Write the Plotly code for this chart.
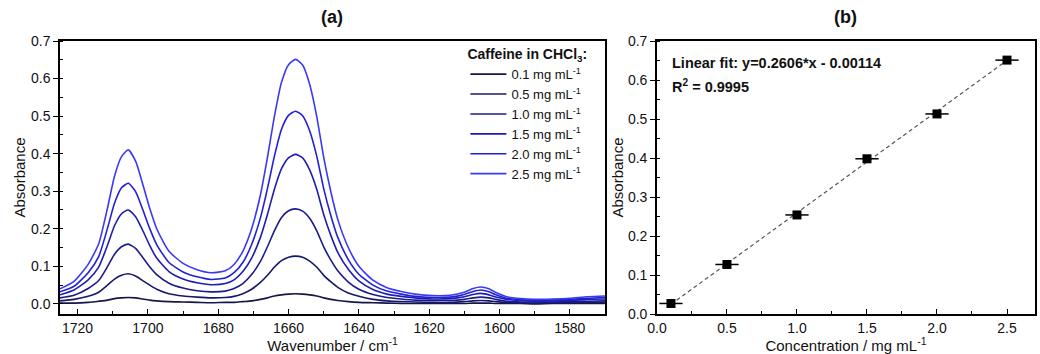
import plotly.graph_objects as go

# ---------------- data ----------------
wavenumber = [1725, 1721, 1717, 1714, 1711.5, 1709.5, 1707.5, 1705.6, 1703.5, 1701.5,
              1699.5, 1697.5, 1694, 1690, 1686, 1682, 1678, 1675.5, 1673, 1670.5,
              1668, 1666, 1664, 1662, 1660, 1658, 1656, 1654, 1652, 1650,
              1648, 1646, 1643, 1640, 1636, 1632, 1628, 1624, 1619, 1614,
              1610, 1607.5, 1605.3, 1603, 1601, 1598, 1594, 1590, 1585, 1580,
              1575, 1570]

abs_01 = [0.002, 0.002, 0.004, 0.007, 0.010, 0.014, 0.016, 0.017, 0.016, 0.013,
          0.010, 0.008, 0.006, 0.005, 0.004, 0.003, 0.004, 0.004, 0.006, 0.008,
          0.012, 0.016, 0.021, 0.024, 0.026, 0.027, 0.026, 0.024, 0.021, 0.016,
          0.012, 0.009, 0.006, 0.004, 0.003, 0.002, 0.001, 0.001, 0.001, 0.001,
          0.001, 0.002, 0.002, 0.002, 0.001, 0.001, 0.001, 0.000, 0.001, 0.001,
          0.001, 0.001]
abs_05 = [0.008, 0.012, 0.020, 0.031, 0.050, 0.066, 0.076, 0.080, 0.074, 0.062,
          0.050, 0.039, 0.027, 0.021, 0.018, 0.016, 0.017, 0.020, 0.027, 0.039,
          0.057, 0.076, 0.098, 0.115, 0.124, 0.127, 0.124, 0.114, 0.098, 0.076,
          0.059, 0.044, 0.029, 0.020, 0.012, 0.008, 0.006, 0.005, 0.004, 0.004,
          0.006, 0.008, 0.009, 0.008, 0.006, 0.004, 0.003, 0.002, 0.003, 0.003,
          0.004, 0.004]
abs_10 = [0.016, 0.023, 0.041, 0.062, 0.099, 0.132, 0.152, 0.159, 0.148, 0.124,
          0.099, 0.078, 0.055, 0.042, 0.035, 0.032, 0.034, 0.041, 0.054, 0.078,
          0.113, 0.152, 0.195, 0.230, 0.248, 0.253, 0.247, 0.228, 0.195, 0.152,
          0.117, 0.088, 0.058, 0.039, 0.025, 0.017, 0.013, 0.010, 0.009, 0.009,
          0.012, 0.016, 0.018, 0.016, 0.012, 0.007, 0.005, 0.005, 0.005, 0.006,
          0.007, 0.008]
abs_15 = [0.024, 0.037, 0.064, 0.098, 0.156, 0.208, 0.240, 0.250, 0.232, 0.196,
          0.156, 0.122, 0.086, 0.066, 0.056, 0.051, 0.054, 0.064, 0.086, 0.122,
          0.177, 0.238, 0.306, 0.360, 0.389, 0.398, 0.389, 0.357, 0.306, 0.238,
          0.183, 0.137, 0.092, 0.061, 0.038, 0.026, 0.020, 0.016, 0.013, 0.014,
          0.019, 0.025, 0.028, 0.024, 0.018, 0.012, 0.009, 0.007, 0.008, 0.009,
          0.012, 0.013]
abs_20 = [0.032, 0.047, 0.083, 0.126, 0.201, 0.268, 0.309, 0.321, 0.299, 0.252,
          0.201, 0.158, 0.110, 0.085, 0.072, 0.065, 0.069, 0.083, 0.110, 0.158,
          0.229, 0.307, 0.394, 0.465, 0.502, 0.513, 0.501, 0.461, 0.394, 0.307,
          0.236, 0.177, 0.118, 0.079, 0.050, 0.034, 0.026, 0.020, 0.017, 0.018,
          0.025, 0.033, 0.037, 0.032, 0.024, 0.015, 0.011, 0.009, 0.010, 0.012,
          0.015, 0.017]
abs_25 = [0.040, 0.060, 0.105, 0.160, 0.255, 0.340, 0.392, 0.410, 0.380, 0.320,
          0.255, 0.200, 0.140, 0.108, 0.091, 0.083, 0.088, 0.105, 0.140, 0.200,
          0.290, 0.390, 0.500, 0.590, 0.637, 0.651, 0.636, 0.585, 0.500, 0.390,
          0.300, 0.225, 0.150, 0.100, 0.063, 0.043, 0.033, 0.026, 0.022, 0.023,
          0.031, 0.041, 0.045, 0.040, 0.030, 0.019, 0.014, 0.012, 0.013, 0.015,
          0.019, 0.021]

series_labels = ["0.1", "0.5", "1.0", "1.5", "2.0", "2.5"]
series_values = [abs_01, abs_05, abs_10, abs_15, abs_20, abs_25]
series_colors = ["#16164a", "#18186b", "#1b1b8c", "#1d1db2", "#2020d6", "#3a3af5"]

concentration = [0.1, 0.5, 1.0, 1.5, 2.0, 2.5]
peak_absorbance = [0.027, 0.127, 0.254, 0.398, 0.513, 0.651]
conc_error = [0.083, 0.083, 0.083, 0.083, 0.083, 0.083]
fit_slope = 0.2606
fit_intercept = -0.00114

FONT = "Liberation Sans, Arial, sans-serif"

fig = go.Figure()

for lab, vals, col in zip(series_labels, series_values, series_colors):
    fig.add_trace(go.Scatter(
        x=wavenumber, y=vals, mode="lines",
        line=dict(color=col, width=1.6, shape="spline", smoothing=0.6),
        name=f"{lab} mg mL<sup>-1</sup>", xaxis="x", yaxis="y"))

# fit line
fit_x = [concentration[0], concentration[-1]]
fit_y = [fit_slope * v + fit_intercept for v in fit_x]
fig.add_trace(go.Scatter(
    x=fit_x, y=fit_y, mode="lines",
    line=dict(color="#555555", width=1.2, dash="4px,3px"),
    showlegend=False, xaxis="x2", yaxis="y2"))

fig.add_trace(go.Scatter(
    x=concentration, y=peak_absorbance, mode="markers",
    marker=dict(symbol="square", size=9, color="black"),
    error_x=dict(type="data", array=conc_error, color="black", thickness=1.5, width=0),
    showlegend=False, xaxis="x2", yaxis="y2"))

axis_common = dict(
    showline=True, linecolor="black", linewidth=1.5, mirror=True,
    showgrid=False, zeroline=False, ticks="inside", ticklen=5, tickwidth=1.2,
    tickcolor="black", tickfont=dict(family=FONT, size=14, color="#111"),
    automargin=False,
)

fig.update_layout(
    width=1040, height=354,
    margin=dict(l=0, r=0, t=41, b=40),
    plot_bgcolor="white", paper_bgcolor="white",
    font=dict(family=FONT, color="#111"),
    xaxis=dict(axis_common, domain=[0.0577, 0.5817], range=[1725, 1570],
               tick0=1580, dtick=20,
               minor=dict(ticks="inside", ticklen=3, tickwidth=1.1, dtick=10, tickcolor="black"),
               title=dict(text="Wavenumber / cm<sup>-1</sup>", font=dict(family=FONT, size=15), standoff=4),
               anchor="y"),
    yaxis=dict(axis_common, domain=[0, 1], range=[-0.027, 0.7], ticks="outside",
               tick0=0, dtick=0.1, tickformat=".1f",
               minor=dict(ticks="inside", ticklen=3, tickwidth=1.1, dtick=0.05, tickcolor="black"),
               title=dict(text="Absorbance", font=dict(family=FONT, size=15), standoff=2),
               anchor="x"),
    xaxis2=dict(axis_common, domain=[0.6317, 0.9952], range=[0, 2.7],
                tick0=0, dtick=0.5, tickformat=".1f",
                minor=dict(ticks="inside", ticklen=3, tickwidth=1.1, dtick=0.25, tickcolor="black"),
                title=dict(text="Concentration / mg mL<sup>-1</sup>", font=dict(family=FONT, size=15), standoff=4),
                anchor="y2"),
    yaxis2=dict(axis_common, domain=[0, 1], range=[0, 0.7], ticks="outside",
                tick0=0, dtick=0.1, tickformat=".1f",
                minor=dict(ticks="inside", ticklen=3, tickwidth=1.1, dtick=0.05, tickcolor="black"),
                title=dict(text="Absorbance", font=dict(family=FONT, size=15), standoff=1),
                anchor="x2"),
    legend=dict(
        x=0.4475, y=1.0, xanchor="left", yanchor="top",
        bgcolor="rgba(0,0,0,0)", borderwidth=0,
        font=dict(family=FONT, size=13, color="#111"),
        title=dict(text="<b>Caffeine in CHCl<sub>3</sub>:</b>", font=dict(family=FONT, size=14)),
        itemwidth=36, tracegroupgap=0,
    ),
    annotations=[
        dict(text="<b>(a)</b>", xref="x domain", yref="paper", x=0.5, y=1, yshift=12,
             xanchor="center", yanchor="bottom", showarrow=False,
             font=dict(family=FONT, size=18, color="#111")),
        dict(text="<b>(b)</b>", xref="x2 domain", yref="paper", x=0.5, y=1, yshift=12,
             xanchor="center", yanchor="bottom", showarrow=False,
             font=dict(family=FONT, size=18, color="#111")),
        dict(text="<b>Linear fit: y=0.2606*x - 0.00114</b>", xref="x2 domain", yref="y2 domain",
             x=0.035, y=0.92, xanchor="left", yanchor="middle", showarrow=False,
             font=dict(family=FONT, size=14.5, color="#111")),
        dict(text="<b>R<sup>2</sup> = 0.9995</b>", xref="x2 domain", yref="y2 domain",
             x=0.035, y=0.835, xanchor="left", yanchor="middle", showarrow=False,
             font=dict(family=FONT, size=14.5, color="#111")),
    ],
)

fig.write_html("out.html",
               config={"displayModeBar": False},
               post_script="document.body.style.margin='0';document.body.style.overflow='hidden';")
